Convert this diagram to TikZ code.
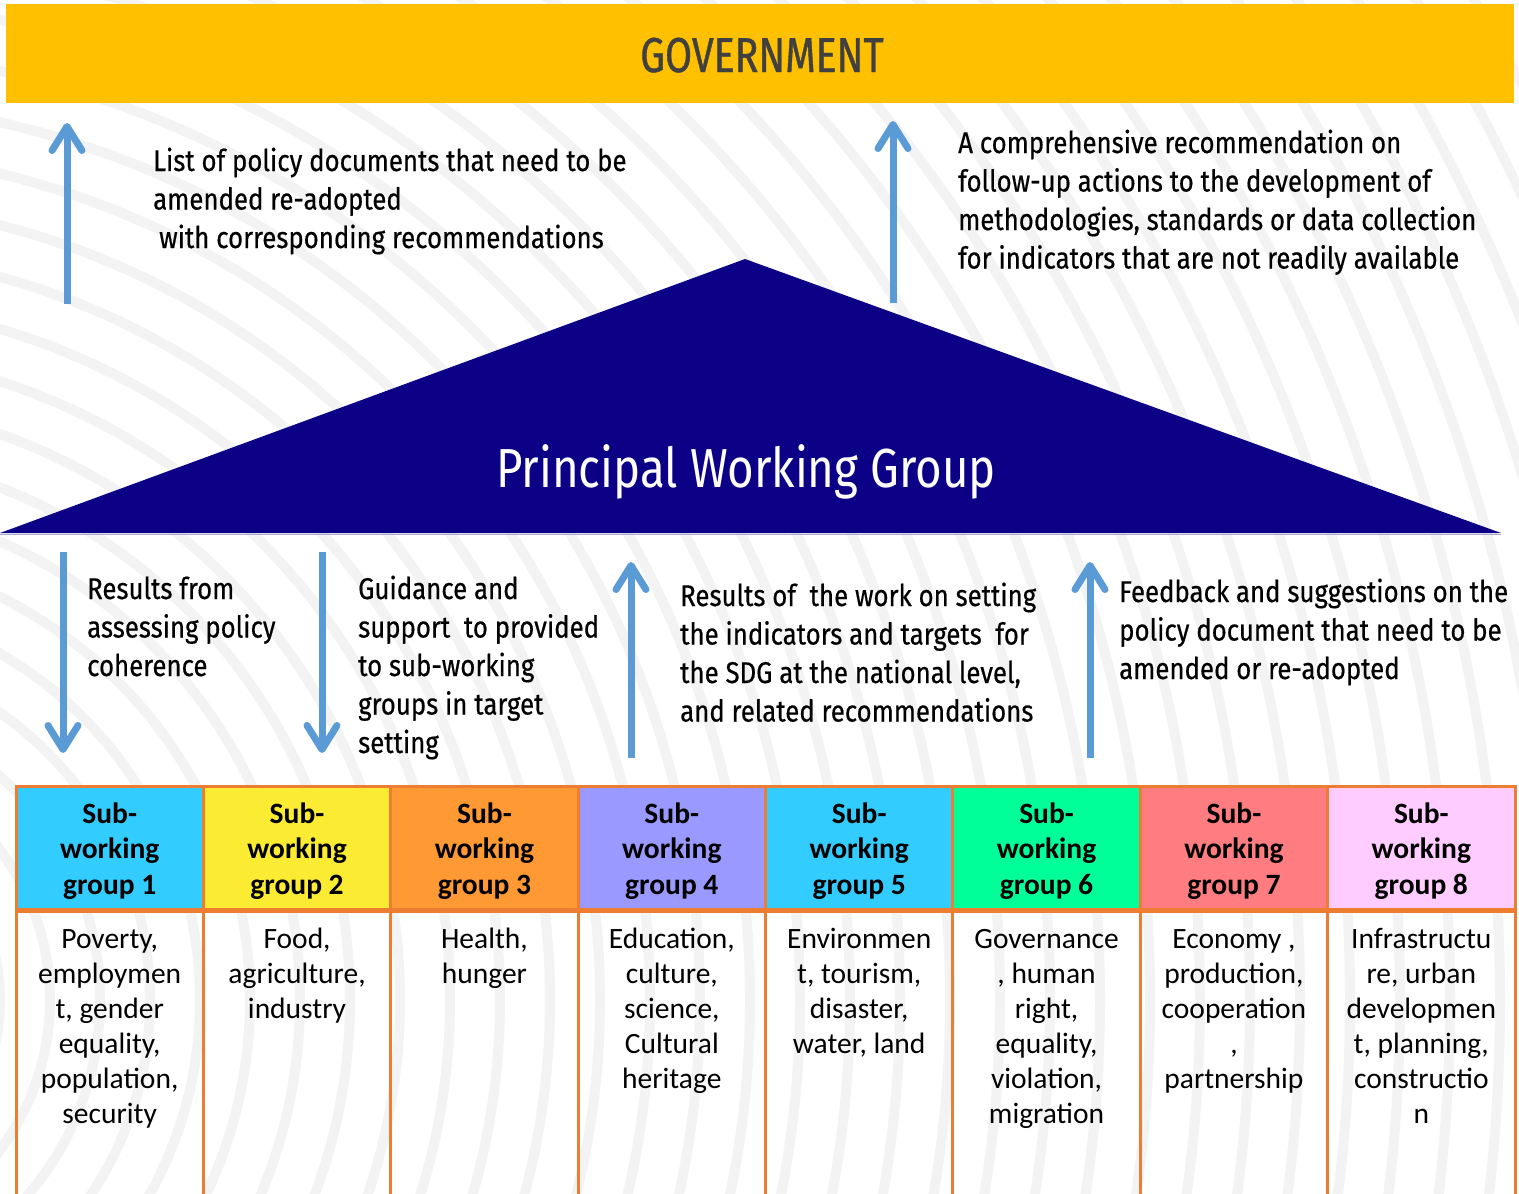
\documentclass[tikz,border=0pt]{standalone}
\usepackage{fontspec}
\setmainfont{Carlito}
\newfontfamily\condf[FakeStretch=0.86,FakeBold=0.5]{Fira Sans}
\newfontfamily\condg[FakeStretch=0.83]{Fira Sans}
\newfontfamily\condh[FakeStretch=0.80,FakeBold=0.8]{Fira Sans}
\usetikzlibrary{arrows.meta}
\definecolor{gov}{HTML}{FFC000}
\definecolor{pwg}{HTML}{0C0086}
\definecolor{arr}{HTML}{5B9BD5}
\definecolor{tbl}{HTML}{ED7D31}
\definecolor{govtext}{HTML}{404040}
\definecolor{bgarc}{HTML}{F3F3F3}
\definecolor{hA}{HTML}{33CCFF}
\definecolor{hB}{HTML}{FBEB33}
\definecolor{hC}{HTML}{FF9933}
\definecolor{hD}{HTML}{9999FF}
\definecolor{hE}{HTML}{33CCFF}
\definecolor{hF}{HTML}{00FF99}
\definecolor{hG}{HTML}{FF7C80}
\definecolor{hH}{HTML}{FFCCFF}
\tikzset{
  flow/.style={draw=arr, line width=7pt, -{Straight Barb[length=24pt,width=30pt,round]}},
  lbl/.style={anchor=base west, align=left, inner sep=0pt, font=\condf\fontsize{30}{38.5}\selectfont},
  hdrtext/.style={anchor=base, align=center, inner sep=0pt, font=\bfseries\fontsize{29.5}{35.5}\selectfont},
  bodytext/.style={anchor=base, align=center, inner sep=0pt, font=\fontsize{29.5}{35}\selectfont},
  hdrcell/.style={minimum width=187.4pt, minimum height=123pt, inner sep=0pt, draw=none},
}
\begin{document}
\begin{tikzpicture}[x=1pt,y=-1pt]
\useasboundingbox (0,0) rectangle (1519,1194);
\fill[white] (0,0) rectangle (1519,1194);
% background arcs
\begin{scope}
\clip (0,0) rectangle (1519,1194);
\foreach \r in {200,250,...,2700}
  \draw[bgarc, line width=10pt] (-200,1000) circle[radius=\r];
\end{scope}
% government bar
\node[fill=gov, minimum width=1508pt, minimum height=99pt, inner sep=0pt] (gov) at (760,53.5) {};
\node[anchor=base, inner sep=0pt, text=govtext, font=\condh\fontsize{49}{49}\selectfont] (govlabel) at (762,72) {GOVERNMENT};
% triangle
\coordinate (tl) at (0,533);
\coordinate (apex) at (745,259);
\coordinate (tr) at (1501,533);
\fill[pwg] (tl) -- (apex) -- (tr) -- cycle;
\draw[pwg!35!white, line width=1.5pt] (0,534.5) -- (1501,534.5);
\node[anchor=base, inner sep=0pt, text=white, font=\condg\fontsize{55}{55}\selectfont] (pwglabel) at (746,487) {Principal Working Group};
% upper texts (anchor = baseline of last line)
\node[lbl] (t1) at (153,248) {List of policy documents that need to be\\amended re-adopted\\\hspace{6pt}with corresponding recommendations};
\node[lbl] (t2) at (958,268.5) {A comprehensive recommendation on\\follow-up actions to the development of\\methodologies, standards or data collection\\for indicators that are not readily available};
% lower texts
\node[lbl] (t3) at (87,676) {Results from\\assessing policy\\coherence};
\node[lbl] (t4) at (358,753) {Guidance and\\support~ to provided\\to sub-working\\groups in target\\setting};
\node[lbl] (t5) at (680,721.5) {Results of~ the work on setting\\the indicators and targets~ for\\the SDG at the national level,\\and related recommendations};
\node[lbl] (t6) at (1119,679) {Feedback and suggestions on the\\policy document that need to be\\amended or re-adopted};
% arrows
\coordinate (a1s) at (67,304); \coordinate (a1e) at (67,123);
\coordinate (a2s) at (893,303); \coordinate (a2e) at (893,121);
\coordinate (a3s) at (63,552); \coordinate (a3e) at (63,753);
\coordinate (a4s) at (322,552); \coordinate (a4e) at (322,753);
\coordinate (a5s) at (631,758); \coordinate (a5e) at (631,562);
\coordinate (a6s) at (1090,758); \coordinate (a6e) at (1090,562);
\draw[flow] (a1s) -- (a1e);
\draw[flow] (a2s) -- (a2e);
\draw[flow] (a3s) -- (a3e);
\draw[flow] (a4s) -- (a4e);
\draw[flow] (a5s) -- (a5e);
\draw[flow] (a6s) -- (a6e);
% table header cells
\foreach \i/\c in {1/hA,2/hB,3/hC,4/hD,5/hE,6/hF,7/hG,8/hH}{
  \node[hdrcell, fill=\c] (h\i) at ({16+187.375*(\i-0.5)},848.5) {};
  \node[hdrtext] (ht\i) at ({16+187.375*(\i-0.5)},894) {Sub-\\working\\group \i};
}
% table lines
\foreach \i in {1,...,7}
  \draw[tbl, line width=3pt] ({16+187.375*\i},786) -- ({16+187.375*\i},1200);
\draw[tbl, line width=3pt] (16,1200) -- (16,786) -- (1515,786) -- (1515,1200);
\draw[tbl, line width=5pt] (16,910) -- (1515,910);
% body texts (anchor = baseline of last line)
\node[bodytext] (b1) at ({16+187.375*0.5},1123) {Poverty,\\employmen\\t, gender\\equality,\\population,\\security};
\node[bodytext] (b2) at ({16+187.375*1.5},1018) {Food,\\agriculture,\\industry};
\node[bodytext] (b3) at ({16+187.375*2.5},983) {Health,\\hunger};
\node[bodytext] (b4) at ({16+187.375*3.5},1088) {Education,\\culture,\\science,\\Cultural\\heritage};
\node[bodytext] (b5) at ({16+187.375*4.5},1053) {Environmen\\t, tourism,\\disaster,\\water, land};
\node[bodytext] (b6) at ({16+187.375*5.5},1123) {Governance\\, human\\right,\\equality,\\violation,\\migration};
\node[bodytext] (b7) at ({16+187.375*6.5},1088) {Economy ,\\production,\\cooperation\\,\\partnership};
\node[bodytext] (b8) at ({16+187.375*7.5},1123) {Infrastructu\\re, urban\\developmen\\t, planning,\\constructio\\n};
\end{tikzpicture}
\end{document}
